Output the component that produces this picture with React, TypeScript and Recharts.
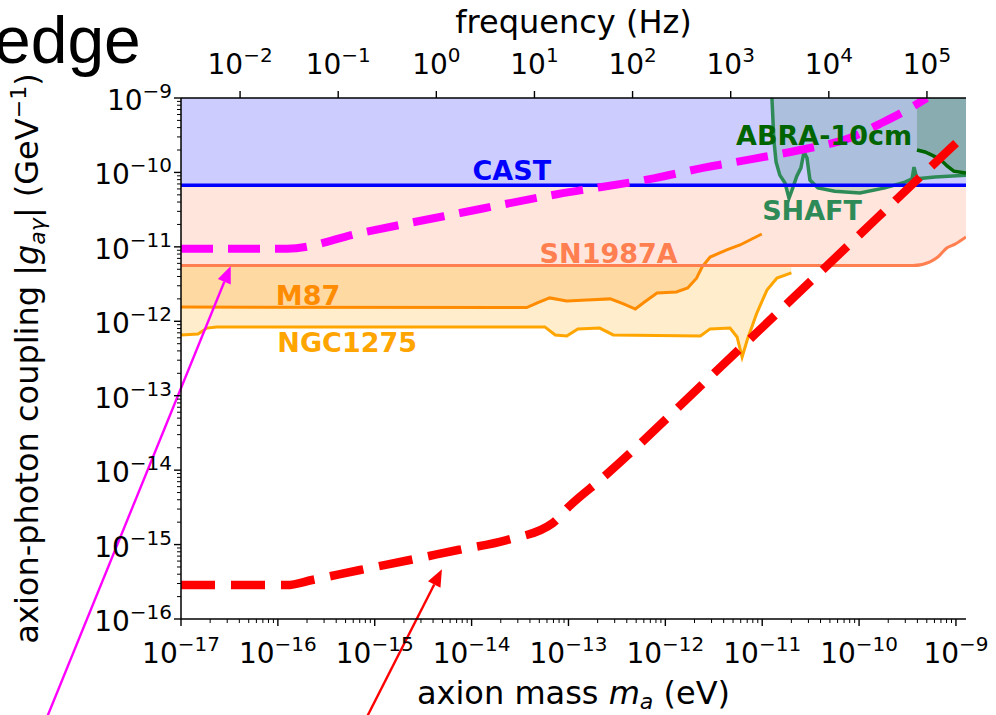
import {
  ComposedChart,
  Area,
  Line,
  XAxis,
  YAxis,
  ReferenceLine,
  ReferenceDot,
} from "recharts"

// axion mass m_a (eV) and coupling |g_aγ| (GeV^-1)

const CAST_MASS = [1e-17, 1.27e-9]
const CAST_G = [6.7e-11, 6.7e-11]

const SN1987A_MASS = [1e-17, 3.6e-10, 5.4e-10, 6.5e-10, 8.1e-10, 9.8e-10, 1.27e-9]
const SN1987A_G = [5.6e-12, 5.6e-12, 6.3e-12, 7.3e-12, 9.7e-12, 1.09e-11, 1.36e-11]

const M87_MASS = [
  1e-17, 3.7e-14, 4.7e-14, 6.4e-14, 9.6e-14, 1.55e-13, 2.7e-13, 3.7e-13, 4.9e-13, 5.9e-13,
  8.2e-13, 1.3e-12, 1.7e-12, 2.1e-12, 2.4e-12, 2.9e-12, 4.3e-12, 5.9e-12, 9.9e-12,
]
const M87_G = [
  1.55e-12, 1.53e-12, 1.76e-12, 2.06e-12, 1.87e-12, 1.93e-12, 2.0e-12, 1.71e-12, 1.46e-12, 1.76e-12,
  2.4e-12, 2.48e-12, 2.8e-12, 3.8e-12, 5.4e-12, 7.3e-12, 9.1e-12, 1.06e-11, 1.49e-11,
]

const NGC1275_MASS = [
  1e-17, 1.5e-17, 1.85e-17, 2.35e-17, 5.7e-14, 7.3e-14, 9.6e-14, 1.25e-13, 2.1e-13, 2.9e-13,
  2.3e-12, 2.9e-12, 4.65e-12, 5.5e-12, 6.2e-12, 7.0e-12, 8.8e-12, 1.12e-11, 1.42e-11, 2.0e-11,
]
const NGC1275_G = [
  6.55e-13, 6.75e-13, 8.1e-13, 8.4e-13, 8.4e-13, 6.55e-13, 6.35e-13, 7.9e-13, 8.1e-13, 6.55e-13,
  6.35e-13, 7.9e-13, 8.1e-13, 6.15e-13, 3.3e-13, 5.6e-13, 1.29e-12, 2.63e-12, 3.8e-12, 4.46e-12,
]

const SHAFT_MASS = [
  1.26e-11, 1.32e-11, 1.39e-11, 1.52e-11, 1.72e-11, 1.89e-11, 2.03e-11, 2.28e-11, 2.51e-11, 2.7e-11,
  2.9e-11, 3.11e-11, 3.76e-11, 5.6e-11, 1.02e-10, 1.85e-10, 2.98e-10, 3.52e-10, 3.69e-10, 3.96e-10,
  6.1e-10, 1.27e-9,
]
const SHAFT_G = [
  1e-9, 2.7e-10, 1.38e-10, 9.2e-11, 7.2e-11, 4.5e-11, 5.8e-11, 9.0e-11, 1.15e-10, 1.88e-10,
  1.56e-10, 7.9e-11, 6.2e-11, 5.6e-11, 5.3e-11, 6.2e-11, 7.4e-11, 8.2e-11, 1.18e-10, 8.2e-11,
  8.7e-11, 9.2e-11,
]

const ABRA_MASS = [3.96e-10, 4.8e-10, 5.65e-10, 6.85e-10, 8.1e-10, 9.5e-10, 1.27e-9]
const ABRA_G = [2.0e-10, 1.88e-10, 1.71e-10, 1.51e-10, 1.22e-10, 1.04e-10, 9.8e-11]

// projected sensitivities (dashed)
const MAGENTA_MASS = [
  1e-17, 1.24e-16, 7.0e-16, 7.6e-15, 7.6e-14, 7.8e-13, 2.44e-12, 7.8e-12, 2.45e-11, 8.0e-11,
  1.64e-10, 3.1e-10, 5.0e-10,
]
const MAGENTA_G = [
  9.4e-12, 9.4e-12, 1.53e-11, 2.85e-11, 5.1e-11, 8.4e-11, 1.15e-10, 1.51e-10, 2.0e-10, 2.9e-10,
  4.5e-10, 6.9e-10, 1.0e-9,
]

const RED_MASS = [
  1e-17, 1.24e-16, 2.25e-16, 7.05e-16, 2.3e-15, 7.2e-15, 2.3e-14, 6.9e-14, 1.0e-13, 2.26e-13,
  2.9e-12, 6.8e-11, 9.1e-10, 1.27e-9,
]
const RED_G = [
  2.86e-16, 2.86e-16, 3.34e-16, 4.55e-16, 6.2e-16, 8.45e-16, 1.15e-15, 1.95e-15, 3.2e-15, 7.9e-15,
  1.79e-13, 8.9e-12, 2.2e-10, 3.3e-10,
]

// axes
const MASS_DOMAIN: [number, number] = [1e-17, 1.27e-9]
const G_DOMAIN: [number, number] = [1e-16, 1e-9]
const FREQ_DOMAIN: [number, number] = [2.5e-3, 2.5e5]

const MASS_TICKS = [1e-17, 1e-16, 1e-15, 1e-14, 1e-13, 1e-12, 1e-11, 1e-10, 1e-9]
const G_TICKS = [1e-16, 1e-15, 1e-14, 1e-13, 1e-12, 1e-11, 1e-10, 1e-9]
const FREQ_TICKS = [1e-2, 1e-1, 1, 1e1, 1e2, 1e3, 1e4, 1e5]

const minorsOf = (majors: number[]) =>
  majors.slice(0, -1).flatMap(t => [2, 3, 4, 5, 6, 7, 8, 9].map(k => k * t))

// region labels (anchor = text baseline centre)
const REGION_LABELS = [
  { text: "CAST", m: 2.6e-14, g: 7.9e-11, color: "#0000ff" },
  { text: "SN1987A", m: 2.6e-13, g: 6.1e-12, color: "#ff7f50" },
  { text: "M87", m: 2.05e-16, g: 1.66e-12, color: "#ff8c00" },
  { text: "NGC1275", m: 5.2e-16, g: 3.86e-13, color: "#ffa500" },
  { text: "ABRA-10cm", m: 4.35e-11, g: 2.34e-10, color: "#006400" },
  { text: "SHAFT", m: 3.27e-11, g: 2.3e-11, color: "#2e8b57" },
]

// slide annotation arrows: [tail, head]
const MAGENTA_ARROW = [{ x: 3.66e-19, y: 3.23e-18 }, { x: 3.26e-17, y: 5.53e-12 }]
const RED_ARROW = [{ x: 7.1e-16, y: 3.23e-18 }, { x: 4.94e-15, y: 4.65e-16 }]

const FONT = "'DejaVu Sans', sans-serif"
const INK = "#000"

const rows = (m: number[], g: number[]) => m.map((v, i) => ({ m: v, g: g[i] }))

// invisible anchor so the frequency axis gets a scale of its own
const FREQ_ANCHOR = FREQ_DOMAIN.map(f => ({ f, g: G_DOMAIN[1] }))

const isMajor = (v: number) => {
  const l = Math.log10(v)
  return Math.abs(l - Math.round(l)) < 1e-6
}
const expText = (v: number) => {
  const e = Math.round(Math.log10(v))
  return e < 0 ? `\u2212${-e}` : `${e}`
}

function MassTick({ x, y, payload }: any) {
  const major = isMajor(payload.value)
  return (
    <g>
      <line x1={x} x2={x} y1={y} y2={y + (major ? 7 : 4)} stroke={INK} strokeWidth={major ? 1.4 : 1} />
      {major && (
        <text x={x} y={y + 44} textAnchor="middle" fontFamily={FONT} fontSize={28} fill={INK}>
          10<tspan dy={-12} fontSize={20}>{expText(payload.value)}</tspan>
        </text>
      )}
    </g>
  )
}

function FreqTick({ x, y, payload }: any) {
  return (
    <g>
      <line x1={x} x2={x} y1={y} y2={y - 7} stroke={INK} strokeWidth={1.4} />
      <text x={x} y={y - 24} textAnchor="middle" fontFamily={FONT} fontSize={28} fill={INK}>
        10<tspan dy={-12} fontSize={20}>{expText(payload.value)}</tspan>
      </text>
    </g>
  )
}

function CouplingTick({ x, y, payload }: any) {
  const major = isMajor(payload.value)
  return (
    <g>
      <line x1={x - (major ? 7 : 4)} x2={x} y1={y} y2={y} stroke={INK} strokeWidth={major ? 1.4 : 1} />
      {major && (
        <text x={x - 9} y={y + 12} textAnchor="end" fontFamily={FONT} fontSize={28} fill={INK}>
          10<tspan dy={-12} fontSize={20}>{expText(payload.value)}</tspan>
        </text>
      )}
    </g>
  )
}

function MassLabel({ viewBox }: any) {
  const vb = viewBox ?? { x: 181, y: 619, width: 785, height: 60 }
  return (
    <text x={vb.x + vb.width / 2} y={704} textAnchor="middle" fontFamily={FONT} fontSize={32} fill={INK}>
      axion mass <tspan fontStyle="italic">m</tspan>
      <tspan dy={5} fontSize={22} fontStyle="italic">a</tspan>
      <tspan dy={-5}> (eV)</tspan>
    </text>
  )
}

function FreqLabel({ viewBox }: any) {
  const vb = viewBox ?? { x: 181, y: 58, width: 785, height: 40 }
  return (
    <text x={vb.x + vb.width / 2} y={33} textAnchor="middle" fontFamily={FONT} fontSize={32} fill={INK}>
      frequency (Hz)
    </text>
  )
}

function CouplingLabel({ viewBox }: any) {
  const vb = viewBox ?? { x: 0, y: 98, width: 181, height: 521 }
  const cx = 38
  const cy = vb.y + vb.height / 2
  return (
    <text
      x={cx}
      y={cy}
      transform={`rotate(-90 ${cx} ${cy})`}
      textAnchor="middle"
      fontFamily={FONT}
      fontSize={32}
      fill={INK}
    >
      axion-photon coupling |<tspan fontStyle="italic">g</tspan>
      <tspan dy={7} fontSize={22} fontStyle="italic">aγ</tspan>
      <tspan dy={-7}>| (GeV</tspan>
      <tspan dy={-12} fontSize={22}>{"\u22121"}</tspan>
      <tspan dy={12}>)</tspan>
    </text>
  )
}

const arrowShape = (color: string) => (p: any) => {
  const { x1, y1, x2, y2 } = p
  const len = Math.hypot(x2 - x1, y2 - y1) || 1
  const ux = (x2 - x1) / len
  const uy = (y2 - y1) / len
  const bx = x2 - ux * 17
  const by = y2 - uy * 17
  return (
    <g>
      <line x1={x1} y1={y1} x2={bx} y2={by} stroke={color} strokeWidth={2.4} />
      <polygon
        points={`${x2},${y2} ${bx - uy * 7},${by + ux * 7} ${bx + uy * 7},${by - ux * 7}`}
        fill={color}
      />
    </g>
  )
}

export default function App() {
  const fills = [
    { m: NGC1275_MASS, g: NGC1275_G, fill: "#ffedcc", op: 1 },
    { m: M87_MASS, g: M87_G, fill: "#fed9a2", op: 1 },
    { m: SN1987A_MASS, g: SN1987A_G, fill: "#ffe5dc", op: 1, curve: "monotone" },
    { m: CAST_MASS, g: CAST_G, fill: "#ccccff", op: 1 },
    { m: SHAFT_MASS, g: SHAFT_G, fill: "#2e8b57", op: 0.2 },
    { m: ABRA_MASS, g: ABRA_G, fill: "#006400", op: 0.2 },
  ]
  const edges = [
    { m: NGC1275_MASS, g: NGC1275_G, stroke: "#ffa500", w: 3 },
    { m: M87_MASS, g: M87_G, stroke: "#ff8c00", w: 3 },
    { m: SN1987A_MASS, g: SN1987A_G, stroke: "#ff7f50", w: 3, curve: "monotone" },
    { m: SHAFT_MASS, g: SHAFT_G, stroke: "#2e8b57", w: 3.5 },
    { m: ABRA_MASS, g: ABRA_G, stroke: "#006400", w: 3.5 },
    { m: CAST_MASS, g: CAST_G, stroke: "#0000ff", w: 3.5 },
  ]

  return (
    <div style={{ position: "absolute", left: 0, top: 0, width: 996, height: 715, background: "#fff" }}>
      <ComposedChart width={996} height={715} margin={{ top: 58, right: 30, bottom: 36, left: 0 }}>
        <XAxis
          xAxisId="mass"
          dataKey="m"
          type="number"
          scale="log"
          domain={MASS_DOMAIN}
          allowDataOverflow
          ticks={[...MASS_TICKS, ...minorsOf(MASS_TICKS)]}
          interval={0}
          tickSize={0}
          tickMargin={0}
          tickLine={false}
          tick={<MassTick />}
          height={60}
          axisLine={{ stroke: INK, strokeWidth: 1.5 }}
          label={<MassLabel />}
        />
        <XAxis
          xAxisId="freq"
          dataKey="f"
          orientation="top"
          type="number"
          scale="log"
          domain={FREQ_DOMAIN}
          allowDataOverflow
          ticks={FREQ_TICKS}
          interval={0}
          tickSize={0}
          tickMargin={0}
          tickLine={false}
          tick={<FreqTick />}
          height={40}
          axisLine={{ stroke: INK, strokeWidth: 1.5 }}
          label={<FreqLabel />}
        />
        <YAxis
          yAxisId="g"
          type="number"
          scale="log"
          domain={G_DOMAIN}
          allowDataOverflow
          ticks={[...G_TICKS, ...minorsOf(G_TICKS)]}
          interval={0}
          tickSize={0}
          tickMargin={0}
          tickLine={false}
          tick={<CouplingTick />}
          width={181}
          axisLine={{ stroke: INK, strokeWidth: 1.5 }}
          label={<CouplingLabel />}
        />
        <YAxis
          yAxisId="right"
          orientation="right"
          type="number"
          scale="log"
          domain={G_DOMAIN}
          allowDataOverflow
          width={0}
          tick={false}
          tickLine={false}
          axisLine={{ stroke: INK, strokeWidth: 1.5 }}
        />

        <Line
          data={FREQ_ANCHOR}
          dataKey="g"
          xAxisId="freq"
          yAxisId="g"
          stroke="none"
          dot={false}
          activeDot={false}
          isAnimationActive={false}
        />

        {/* excluded regions, filled up to the top of the plot */}
        {fills.map((f, i) => (
          <Area
            key={`fill-${i}`}
            data={rows(f.m, f.g)}
            dataKey="g"
            xAxisId="mass"
            yAxisId="g"
            type={(f.curve as any) ?? "linear"}
            baseValue={G_DOMAIN[1]}
            fill={f.fill}
            fillOpacity={f.op}
            stroke="none"
            isAnimationActive={false}
          />
        ))}

        {edges.map((e, i) => (
          <Line
            key={`edge-${i}`}
            data={rows(e.m, e.g)}
            dataKey="g"
            xAxisId="mass"
            yAxisId="g"
            type={(e.curve as any) ?? "linear"}
            stroke={e.stroke}
            strokeWidth={e.w}
            dot={false}
            activeDot={false}
            isAnimationActive={false}
          />
        ))}

        <Line
          data={rows(MAGENTA_MASS, MAGENTA_G)}
          dataKey="g"
          xAxisId="mass"
          yAxisId="g"
          type="monotone"
          stroke="#ff00ff"
          strokeWidth={8}
          strokeDasharray="32 15"
          dot={false}
          activeDot={false}
          isAnimationActive={false}
        />
        <Line
          data={rows(RED_MASS, RED_G)}
          dataKey="g"
          xAxisId="mass"
          yAxisId="g"
          type="monotone"
          stroke="#ff0000"
          strokeWidth={8.5}
          strokeDasharray="34 16"
          dot={false}
          activeDot={false}
          isAnimationActive={false}
        />

        {REGION_LABELS.map(l => (
          <ReferenceDot
            key={l.text}
            xAxisId="mass"
            yAxisId="g"
            x={l.m}
            y={l.g}
            r={0}
            shape={(p: any) => (
              <text
                x={p.cx}
                y={p.cy}
                textAnchor="middle"
                fontFamily={FONT}
                fontWeight="bold"
                fontSize={27}
                fill={l.color}
              >
                {l.text}
              </text>
            )}
          />
        ))}

        <ReferenceLine
          xAxisId="mass"
          yAxisId="g"
          segment={MAGENTA_ARROW}
          ifOverflow="visible"
          shape={arrowShape("#ff00ff")}
        />
        <ReferenceLine
          xAxisId="mass"
          yAxisId="g"
          segment={RED_ARROW}
          ifOverflow="visible"
          shape={arrowShape("#ff0000")}
        />
      </ComposedChart>

      {/* cropped slide title behind the figure */}
      <svg
        width={996}
        height={715}
        style={{ position: "absolute", left: 0, top: 0, pointerEvents: "none" }}
      >
        <text x={-6} y={63} fontFamily="'Liberation Sans', Arial, sans-serif" fontSize={66} fill="#000">
          edge
        </text>
      </svg>
    </div>
  )
}
